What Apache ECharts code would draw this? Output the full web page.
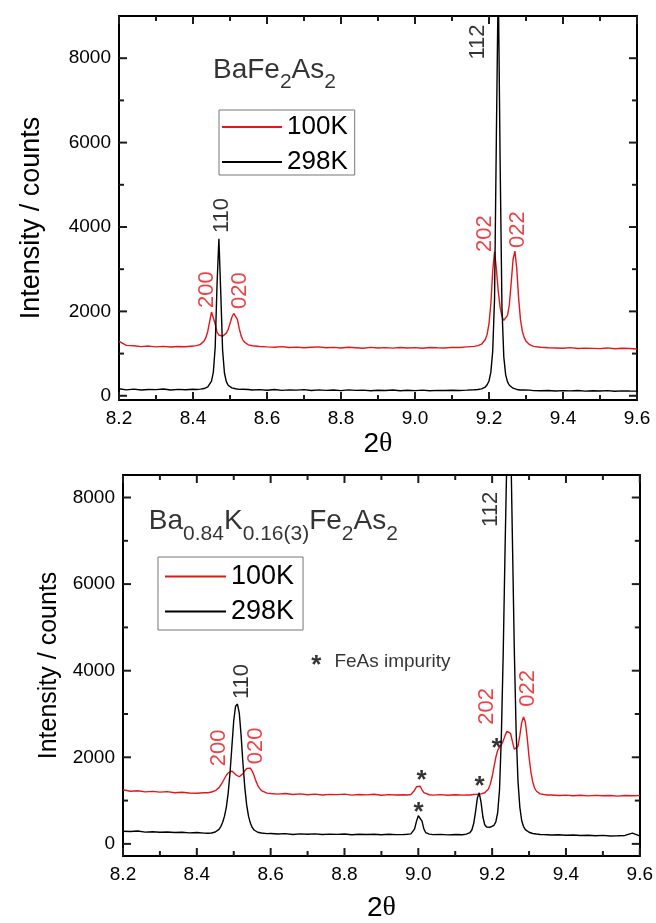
<!DOCTYPE html>
<html><head><meta charset="utf-8">
<script src="https://cdn.jsdelivr.net/npm/echarts@6/dist/echarts.min.js"></script>
<style>html,body{margin:0;padding:0;background:#fff}#c{width:656px;height:923px}</style>
</head><body><div id="c"></div>
<script>
// ---------- data ----------
const topX = [8.20,8.22,8.24,8.26,8.28,8.30,8.32,8.34,8.36,8.38,8.40,
 8.41,8.415,8.42,8.425,8.43,8.435,8.44,8.445,8.45,8.455,8.46,8.465,8.47,8.475,8.48,8.485,8.49,8.495,8.50,8.505,8.51,8.515,8.52,8.525,8.53,8.535,8.54,8.55,8.56,
 8.58,8.60,8.62,8.64,8.66,8.68,8.70,8.72,8.74,8.76,8.78,8.80,8.82,8.84,8.86,8.88,8.90,8.92,8.94,8.96,8.98,9.00,9.02,9.04,9.06,9.08,9.10,9.12,9.14,9.16,
 9.17,9.18,9.185,9.19,9.195,9.20,9.205,9.21,9.215,9.22,9.225,9.23,9.235,9.24,9.245,9.25,9.255,9.26,9.265,9.27,9.275,9.28,9.285,9.29,9.295,9.30,9.31,9.32,
 9.34,9.36,9.38,9.40,9.42,9.44,9.46,9.48,9.50,9.52,9.54,9.56,9.58,9.60];
const top298K = [165,140,158,136,150,147,162,138,152,143,156,
 148,155,158,166,172,188,212,255,345,560,1150,2650,3720,2450,1080,540,335,250,208,186,172,168,158,152,150,156,142,150,138,
 146,132,150,128,141,133,147,124,139,128,137,122,141,129,134,118,131,124,136,119,130,123,134,118,129,124,131,126,133,142,
 150,164,182,208,262,350,560,1050,2300,6200,9900,5600,2100,920,500,330,250,205,180,163,150,146,138,132,140,128,133,122,
 120,126,114,122,117,124,110,119,115,121,108,117,112,110];
const top100K = [1290,1195,1185,1165,1178,1158,1172,1155,1168,1162,1178,
 1188,1202,1218,1250,1300,1385,1530,1760,1985,1940,1700,1510,1440,1415,1410,1440,1485,1570,1710,1860,1950,1955,1810,1590,1420,1320,1262,1208,1186,
 1168,1158,1150,1164,1143,1154,1139,1151,1160,1138,1146,1133,1149,1139,1128,1146,1134,1141,1129,1144,1133,1140,1128,1143,1137,1134,1148,1143,1158,1172,
 1188,1222,1262,1335,1455,1710,2180,2950,3420,3000,2480,2100,1880,1785,1800,1905,2160,2680,3230,3430,3020,2320,1810,1530,1385,1295,1212,1172,
 1150,1138,1134,1128,1141,1119,1130,1124,1118,1134,1113,1126,1119,1108];

const botX = [8.20,8.22,8.24,8.26,8.28,8.30,8.32,8.34,8.36,8.38,8.40,8.42,
 8.43,8.44,8.45,8.455,8.46,8.465,8.47,8.475,8.48,8.485,8.49,8.495,8.50,8.505,8.51,8.515,8.52,8.525,8.53,8.535,8.54,8.545,8.55,8.555,8.56,8.565,8.57,8.575,8.58,8.59,8.60,
 8.62,8.64,8.66,8.68,8.70,8.72,8.74,8.76,8.78,8.80,8.82,8.84,8.86,8.88,8.90,8.92,8.94,8.96,
 8.97,8.98,8.985,8.99,8.995,9.00,9.005,9.01,9.015,9.02,9.03,9.04,
 9.06,9.08,9.10,9.12,
 9.13,9.14,9.145,9.15,9.155,9.16,9.165,9.17,9.175,9.18,9.185,9.19,9.195,9.20,9.205,9.21,9.215,9.22,9.225,9.23,9.235,9.24,9.245,9.25,9.255,9.26,9.265,9.27,9.275,9.28,9.285,9.29,9.295,9.30,9.305,9.31,9.315,9.32,9.325,9.33,9.34,9.35,9.36,
 9.38,9.40,9.42,9.44,9.46,9.48,9.50,9.52,9.54,9.56,9.58,9.60];
const bot298K = [290,285,296,272,281,268,276,262,270,255,262,248,
 245,252,275,295,335,400,500,640,850,1180,1650,2250,2850,3180,3230,3020,2500,1850,1300,900,640,480,380,320,290,268,258,250,244,236,240,
 228,236,218,230,222,232,215,226,219,229,212,224,216,222,210,221,214,218,
 222,232,262,345,520,650,665,525,345,262,226,214,
 220,208,216,212,
 225,262,320,470,740,1060,1180,960,620,440,390,378,385,405,430,510,720,1250,2500,4400,6800,9000,11000,9500,7000,4500,2600,1450,850,540,400,330,290,268,250,240,232,228,222,218,214,210,206,
 210,198,205,192,200,188,196,182,188,195,250,185];
const bot100K = [1250,1215,1228,1200,1212,1195,1206,1182,1194,1176,1170,1182,
 1180,1198,1228,1258,1300,1360,1430,1510,1585,1640,1672,1682,1650,1600,1562,1550,1572,1622,1690,1740,1762,1750,1680,1580,1455,1352,1282,1232,1204,1172,1162,
 1150,1162,1140,1155,1136,1148,1130,1144,1138,1150,1126,1140,1132,1145,1124,1138,1128,1135,
 1130,1142,1172,1240,1320,1362,1330,1250,1182,1150,1134,1126,
 1138,1122,1134,1125,
 1130,1128,1136,1140,1138,1145,1150,1155,1165,1180,1210,1265,1380,1550,1780,2000,2160,2230,2290,2380,2500,2600,2630,2550,2360,2190,2150,2250,2500,2800,2930,2810,2450,2000,1660,1430,1290,1215,1175,1155,1140,1130,1128,
 1118,1126,1112,1122,1108,1120,1110,1116,1104,1118,1110,1115];

const seriesNames = ['100K', '298K'];
const xMajorTicks = [8.2, 8.4, 8.6, 8.8, 9.0, 9.2, 9.4, 9.6];
const xMinorTicks = [8.3, 8.5, 8.7, 8.9, 9.1, 9.3, 9.5];
const yMajor = [0, 2000, 4000, 6000, 8000];
const yMinor = [1000, 3000, 5000, 7000];

// annotation texts, anchored in data coordinates
const topPeakLabels = [
  ['200', 8.438, 2514, 'r'], ['020', 8.527, 2490, 'r'], ['110', 8.478, 4272, 'k'],
  ['202', 9.189, 3844, 'r'], ['022', 9.278, 3939, 'r'], ['112', 9.170, 8382, 'k']
];
const botPeakLabels = [
  ['200', 8.459, 2217, 'r'], ['020', 8.559, 2263, 'r'], ['110', 8.521, 3749, 'k'],
  ['202', 9.185, 3177, 'r'], ['022', 9.298, 3589, 'r'], ['112', 9.198, 7726, 'k']
];
const botStars = [[9.009, 1623], [9.001, 869], [9.166, 1486], [9.212, 2354]];
const topFormula = [8.454, 8049];
const botFormula = [8.270, 7771];
const impurityNote = [8.710, 4206];

// ---------- chart ----------
const RED = '#e3161b', BLACK = '#000', TICK = '#1c1c1c';
const FONT = '"Liberation Sans", Arial, sans-serif';
const pair = (xs, ys) => xs.map((x, i) => [x, ys[i]]);

function xAxes(g) {
  const base = {
    type: 'value', gridIndex: g, min: 8.2, max: 9.6, interval: 0.2,
    axisLine: { show: true, onZero: false, lineStyle: { color: BLACK, width: 2 } },
    axisTick: { show: false }, splitLine: { show: false }
  };
  return [
    Object.assign({}, base, {
      position: 'bottom',
      axisLabel: { show: true, margin: 9, color: BLACK, fontFamily: FONT, fontSize: 19, formatter: v => v.toFixed(1) },
      name: '2{t|θ}', nameLocation: 'middle', nameGap: g === 0 ? 30 : 38,
      nameTextStyle: { color: BLACK, fontFamily: FONT, fontSize: 28,
        rich: { t: { fontFamily: '"Liberation Serif", "DejaVu Serif", serif', fontSize: 28, color: BLACK } } }
    }),
    Object.assign({}, base, { position: 'top', axisLabel: { show: false } })
  ];
}
function yAxes(g, min, max, nameGap, nameSize, namePad) {
  const base = { type: 'value', gridIndex: g, min: min, max: max, splitLine: { show: false }, axisTick: { show: false },
    axisLine: { show: true, onZero: false, lineStyle: { color: BLACK, width: 2 } } };
  return [
    Object.assign({}, base, {
      position: 'left',
      axisLabel: { show: true, customValues: yMajor, margin: 8, color: BLACK, fontFamily: FONT, fontSize: 19,
        formatter: v => String(Math.round(v)) },
      name: 'Intensity / counts', nameLocation: 'middle', nameGap: nameGap,
      nameTextStyle: { color: BLACK, fontFamily: FONT, fontSize: nameSize, padding: namePad }
    }),
    Object.assign({}, base, { position: 'right', axisLabel: { show: false } })
  ];
}
function lineSeries(name, color, xs, ys, xi, yi) {
  return {
    type: 'line', name: name, xAxisIndex: xi, yAxisIndex: yi,
    data: pair(xs, ys), showSymbol: false, symbol: 'none', clip: true,
    lineStyle: { color: color, width: 1.4 }, itemStyle: { color: color },
    silent: true, animation: false
  };
}
function peakLabelSeries(list, xi, yi) {
  return {
    type: 'scatter', xAxisIndex: xi, yAxisIndex: yi, symbolSize: 0, silent: true,
    data: list.map(d => ({
      value: [d[1], d[2]], name: d[0],
      label: { show: true, formatter: d[0], rotate: 90, position: 'inside', align: 'center', verticalAlign: 'middle',
        color: d[3] === 'r' ? RED : BLACK, fontFamily: FONT, fontSize: 22 }
    }))
  };
}
function textSeries(items, xi, yi) {
  return { type: 'scatter', xAxisIndex: xi, yAxisIndex: yi, symbolSize: 0, silent: true, data: items };
}
const subRich = (size, sub) => ({
  n: { fontFamily: FONT, fontSize: size, color: BLACK, verticalAlign: 'top', lineHeight: size + 9 },
  s: { fontFamily: FONT, fontSize: sub, color: BLACK, verticalAlign: 'bottom', lineHeight: size + 9 }
});

const option = {
  animation: false,
  backgroundColor: '#fff',
  grid: [
    { left: 119, right: 19, top: 16, height: 384 },
    { left: 123, right: 14, top: 475, height: 385 }
  ],
  legend: [
    { data: seriesNames, orient: 'vertical', left: 219, top: 110, icon: 'rect', itemWidth: 60, itemHeight: 2, itemGap: 9,
      borderColor: '#777', borderWidth: 1, padding: [4, 7, 0, 3], selectedMode: false,
      textStyle: { color: BLACK, fontFamily: FONT, fontSize: 26 } },
    { data: seriesNames, orient: 'vertical', left: 158, top: 557, icon: 'rect', itemWidth: 61, itemHeight: 2, itemGap: 8,
      borderColor: '#777', borderWidth: 1, padding: [6, 9, 5, 7], selectedMode: false,
      textStyle: { color: BLACK, fontFamily: FONT, fontSize: 27 } }
  ],
  xAxis: [].concat(xAxes(0), xAxes(1)),
  yAxis: [].concat(yAxes(0, -100, 9000, 74, 27, [0, 20, 0, 0]), yAxes(1, -280, 8520, 60, 25, 0)),
  series: [
    lineSeries('100K', RED, topX, top100K, 0, 0),
    lineSeries('298K', BLACK, topX, top298K, 0, 0),
    lineSeries('100K', RED, botX, bot100K, 2, 2),
    lineSeries('298K', BLACK, botX, bot298K, 2, 2),
    peakLabelSeries(topPeakLabels, 0, 0),
    peakLabelSeries(botPeakLabels, 2, 2),
    textSeries([{ value: topFormula, label: { show: true, position: [0, 0], align: 'left', verticalAlign: 'top',
      formatter: '{n|BaFe}{s|2}{n|As}{s|2}', rich: subRich(28, 21) } }], 0, 0),
    textSeries([
      { value: botFormula, label: { show: true, position: [0, 0], align: 'left', verticalAlign: 'top',
        formatter: '{n|Ba}{s|0.84}{n|K}{s|0.16(3)}{n|Fe}{s|2}{n|As}{s|2}', rich: subRich(28, 21) } },
      { value: impurityNote, label: { show: true, position: [0, 0], align: 'left', verticalAlign: 'middle',
        formatter: '{st|*}{tx|FeAs impurity}',
        rich: { st: { fontFamily: FONT, fontSize: 26, fontWeight: 'bold', color: BLACK, padding: [9, 0, 0, 0] },
                tx: { fontFamily: FONT, fontSize: 19, color: BLACK, padding: [0, 0, 0, 13] } } } }
    ].concat(botStars.map(s => ({ value: s, label: { show: true, formatter: '*', position: 'inside',
      align: 'center', verticalAlign: 'middle', offset: [0, 7], fontFamily: FONT, fontSize: 26, fontWeight: 'bold', color: BLACK } }))), 2, 2)
  ]
};
const chart = echarts.init(document.getElementById('c'), null, { renderer: 'canvas' });
chart.setOption(option);

// inward ticks on all four sides of each panel, placed through the axes' own scales
const tickGfx = [];
[[0, 0], [2, 2]].forEach(([xi, yi]) => {
  const x0 = chart.convertToPixel({ xAxisIndex: xi }, 8.2), x1 = chart.convertToPixel({ xAxisIndex: xi }, 9.6);
  const ext = chart.getModel().getComponent('yAxis', yi).axis.scale.getExtent();
  const yb = chart.convertToPixel({ yAxisIndex: yi }, ext[0]), yt = chart.convertToPixel({ yAxisIndex: yi }, ext[1]);
  const add = (a, b, c, d) => tickGfx.push({ type: 'line', z: 100,
    shape: { x1: a, y1: b, x2: c, y2: d }, style: { stroke: TICK, lineWidth: 2 } });
  xMajorTicks.concat(xMinorTicks).forEach((v, i) => {
    const L = i < xMajorTicks.length ? 8 : 5, p = chart.convertToPixel({ xAxisIndex: xi }, v);
    add(p, yb, p, yb - L); add(p, yt, p, yt + L);
  });
  yMajor.concat(yMinor).forEach((v, i) => {
    const L = i < yMajor.length ? 8 : 5, p = chart.convertToPixel({ yAxisIndex: yi }, v);
    add(x0, p, x0 + L, p); add(x1, p, x1 - L, p);
  });
});
chart.setOption({ graphic: tickGfx });
</script>
</body></html>
